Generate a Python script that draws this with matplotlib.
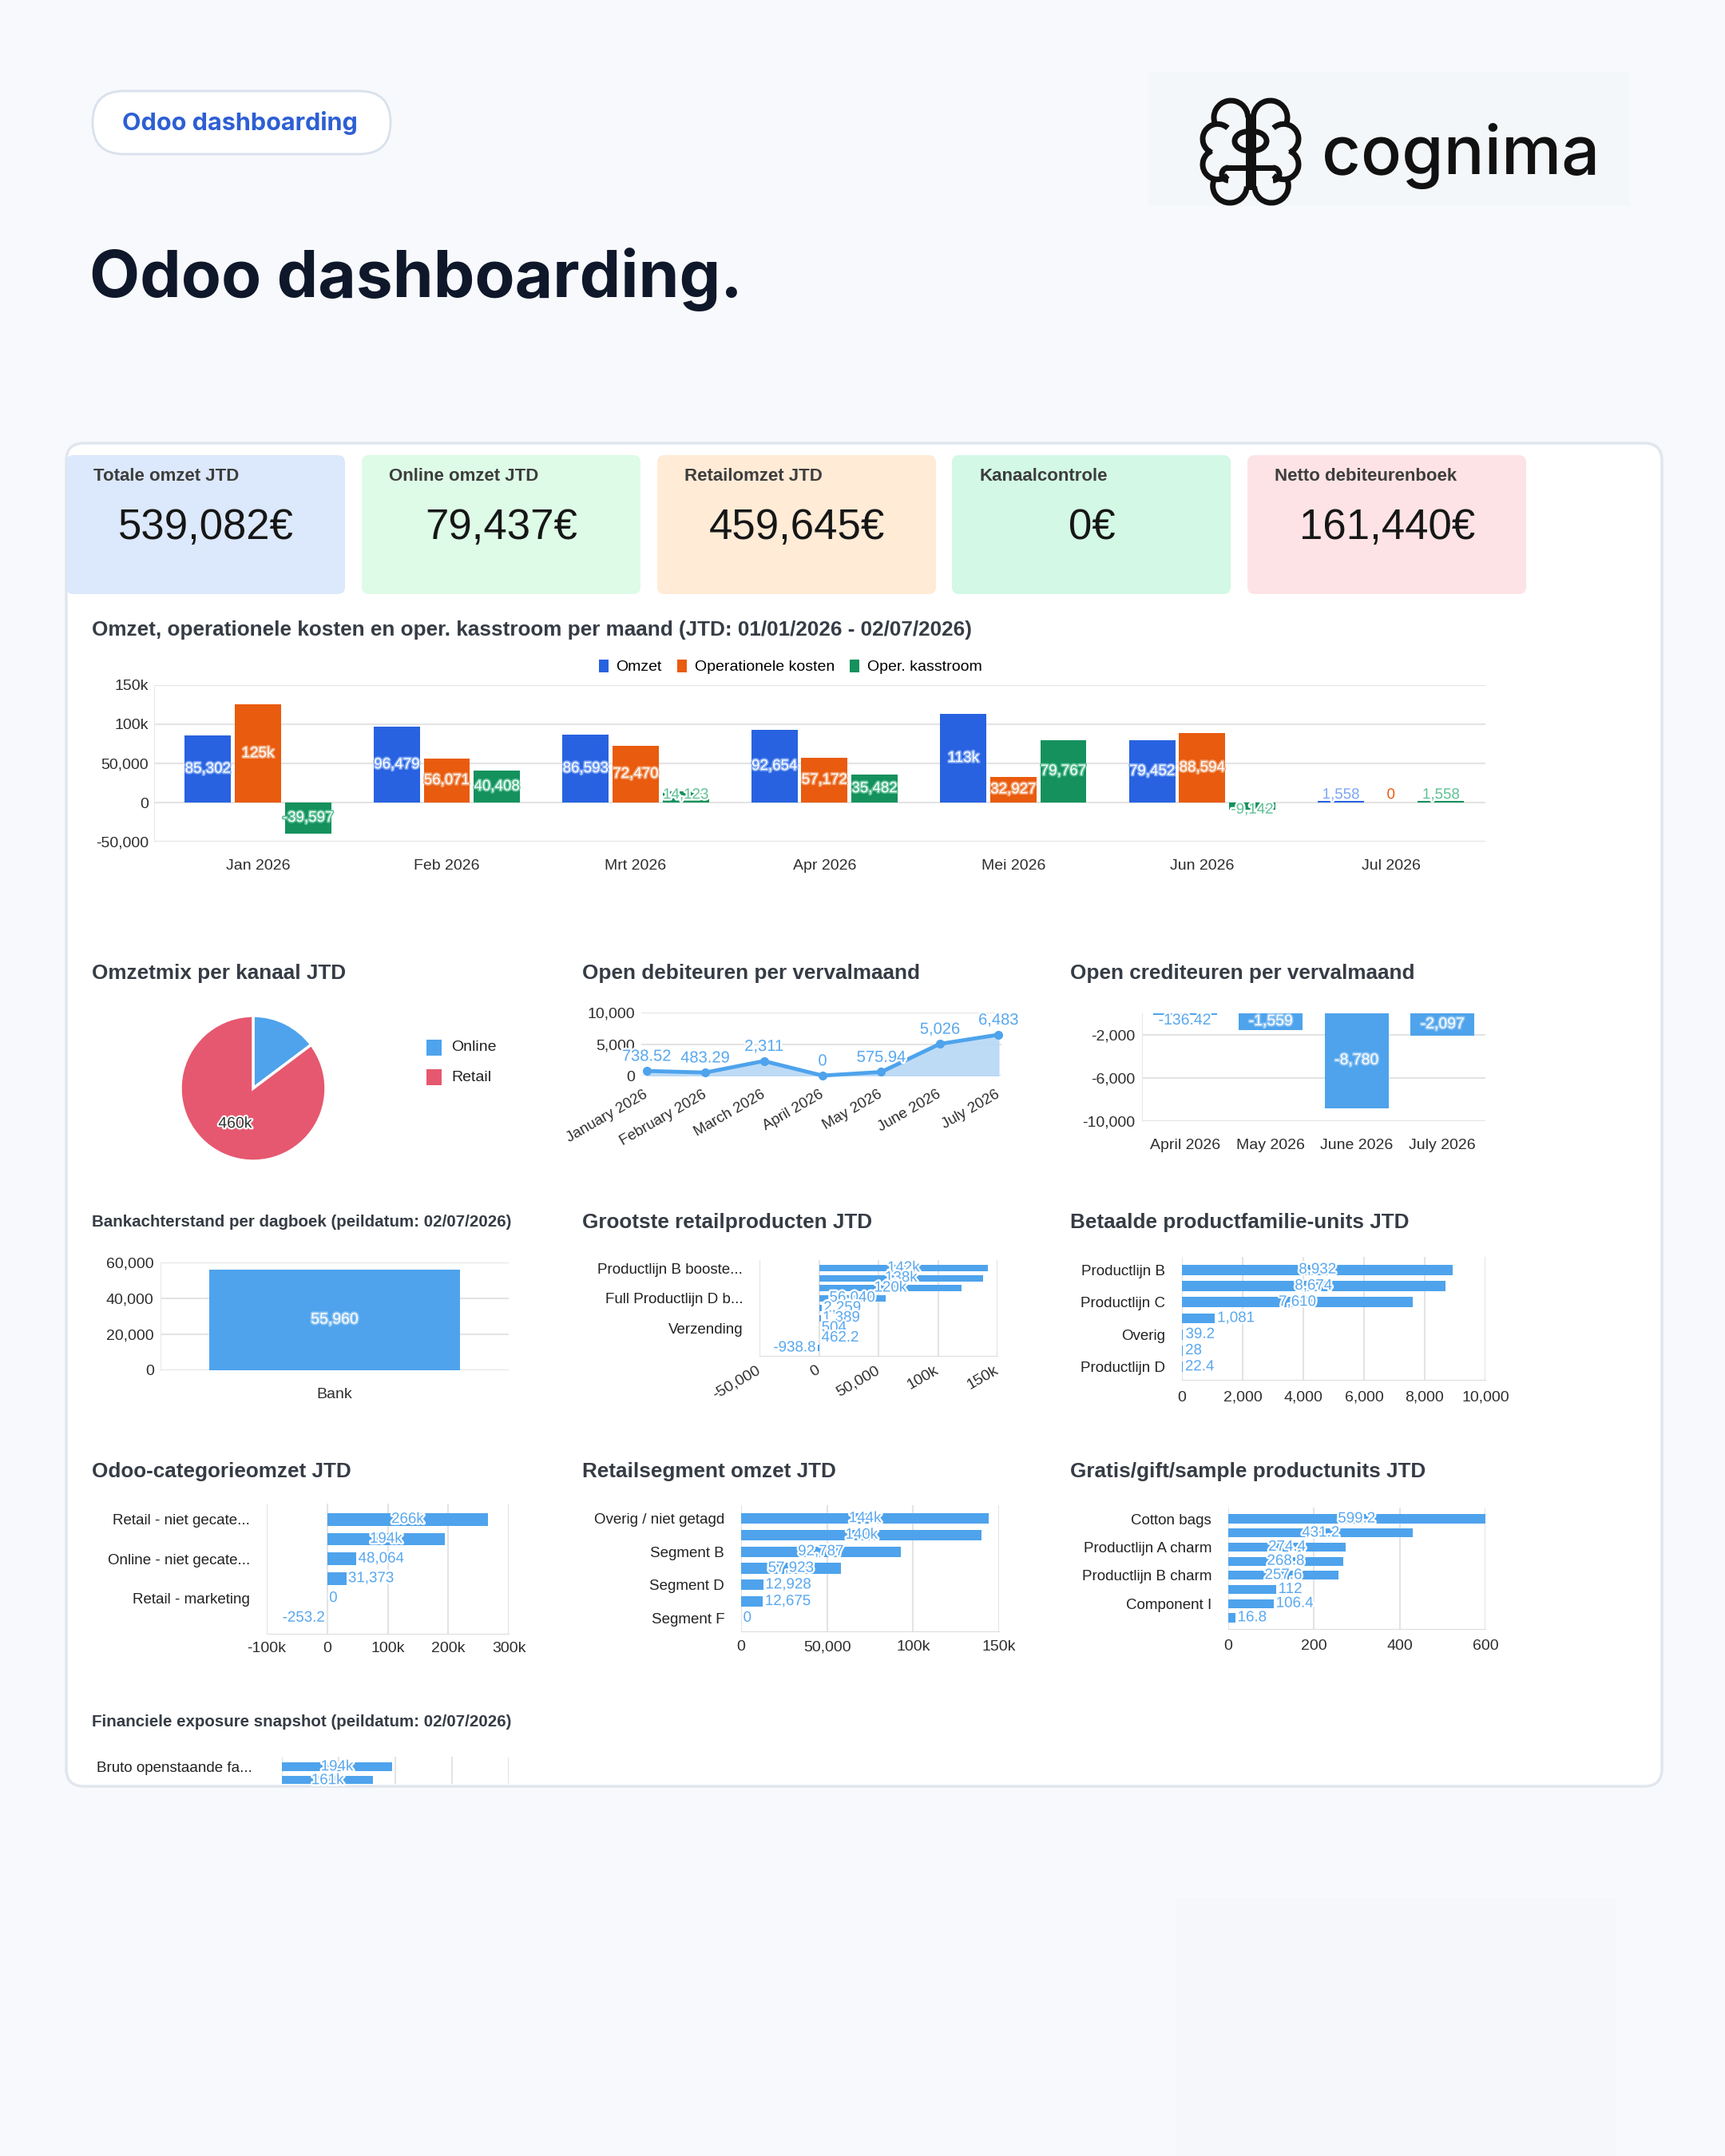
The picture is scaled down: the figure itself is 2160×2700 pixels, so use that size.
import numpy as np
import matplotlib
matplotlib.use("Agg")
import matplotlib.pyplot as plt
import matplotlib.patheffects as pe
from matplotlib.patches import FancyBboxPatch, Rectangle, Arc
from matplotlib.ticker import FuncFormatter
from matplotlib import font_manager

W, H = 2160, 2700
plt.rcParams['font.family'] = ['Liberation Sans', 'DejaVu Sans']

# ---- data ----
kpi_titles = ["Totale omzet JTD", "Online omzet JTD", "Retailomzet JTD", "Kanaalcontrole", "Netto debiteurenboek"]
kpi_values = ["539,082€", "79,437€", "459,645€", "0€", "161,440€"]

months = ["Jan 2026", "Feb 2026", "Mrt 2026", "Apr 2026", "Mei 2026", "Jun 2026", "Jul 2026"]
omzet = [85302, 96479, 86593, 92654, 113000, 79452, 1558]
oper_kosten = [125000, 56071, 72470, 57172, 32927, 88594, 0]
kasstroom = [-39597, 40408, 14123, 35482, 79767, -9142, 1558]

kanalen = ["Online", "Retail"]
kanaal_omzet = [79437, 459645]

deb_maanden = ["January 2026", "February 2026", "March 2026", "April 2026", "May 2026", "June 2026", "July 2026"]
deb_open = [738.52, 483.29, 2311, 0, 575.94, 5026, 6483]

cred_maanden = ["April 2026", "May 2026", "June 2026", "July 2026"]
cred_open = [-136.42, -1559, -8780, -2097]

bank_dagboek = ["Bank"]
bank_achterstand = [55960]

retail_labels = ["Productlijn B booste...", "", "", "Full Productlijn D b...", "", "", "Verzending", "", ""]
retail_omzet = [142000, 138000, 120000, 56040, 2259, 1389, 504, 462.2, -938.8]

fam_labels = ["Productlijn B", "", "Productlijn C", "", "Overig", "", "Productlijn D"]
fam_units = [8932, 8674, 7610, 1081, 39.2, 28, 22.4]

cat_labels = ["Retail - niet gecate...", "", "Online - niet gecate...", "", "Retail - marketing", ""]
cat_omzet = [266000, 194000, 48064, 31373, 0, -253.2]

seg_labels = ["Overig / niet getagd", "", "Segment B", "", "Segment D", "", "Segment F"]
seg_omzet = [144000, 140000, 92787, 57923, 12928, 12675, 0]

gift_labels = ["Cotton bags", "", "Productlijn A charm", "", "Productlijn B charm", "", "Component I", ""]
gift_units = [599.2, 431.2, 274.4, 268.8, 257.6, 112, 106.4, 16.8]

exp_labels = ["Bruto openstaande fa...", ""]
exp_values = [194000, 161000]

# ---- colours ----
BG = "#f7f9fc"
BLUE = "#2862e0"
ORANGE = "#e95b0e"
GREEN = "#14915d"
LIGHT = "#4ea3ec"
LBL = "#5aa8ee"
PIE_COLS = ["#4ea3ec", "#e6586f"]
KPI_COLS = ["#dce8fb", "#ddfbe6", "#ffebd6", "#d3f8e6", "#fde3e5"]
TITLE_C = "#363c45"
TICK_C = "#2e2e2e"
GRID = "#e4e4e4"
TS = 14  # tick label size

names = {f.name for f in font_manager.fontManager.ttflist}
NARROW = "Liberation Sans Narrow" if "Liberation Sans Narrow" in names else None


def fmt(v):
    if abs(v) >= 100000:
        return "%dk" % round(v / 1000)
    if float(v).is_integer():
        return "{:,}".format(int(v))
    return "{:,.2f}".format(v).rstrip("0")


kfmt = FuncFormatter(lambda v, p: fmt(v))

fig = plt.figure(figsize=(W / 100, H / 100), dpi=100, facecolor=BG)


def px_axes(x0, y0, x1, y1):
    return fig.add_axes([x0 / W, 1 - y1 / H, (x1 - x0) / W, (y1 - y0) / H])


bg = px_axes(0, 0, W, H)
bg.set_xlim(0, W)
bg.set_ylim(H, 0)
bg.axis("off")
bg.set_zorder(-5)

# header
bg.add_patch(FancyBboxPatch((116, 114), 373, 79, boxstyle="round,pad=0,rounding_size=39",
                            fc="white", ec="#d9e1ec", lw=2))
bg.text(300, 154, "Odoo dashboarding", color="#2d5fd3", fontsize=22, fontweight="bold",
        family=["Inter", "DejaVu Sans"], ha="center", va="center")
bg.text(112, 372, "Odoo dashboarding.", color="#0f172a", fontsize=59, fontweight="bold",
        family=["Inter", "DejaVu Sans"], ha="left", va="baseline")
bg.add_patch(Rectangle((1438, 90), 603, 168, fc="#f4f7fa", ec="none"))
bg.text(1655, 218, "cognima", color="#111111", fontsize=61, fontweight="medium",
        family=["Inter", "DejaVu Sans"], ha="left", va="baseline")
bg.add_patch(Rectangle((1473, 2377), 551, 323, fc="#f5f7fa", ec="none"))

# brain logo
lg = px_axes(1493, 120, 1639, 260)
lg.set_xlim(-1.05, 1.05)
lg.set_ylim(-1.05, 1.05)
lg.set_aspect("equal")
lg.axis("off")
bumps = [(0.37, 0.64, 0.32), (0.62, 0.24, 0.28), (0.62, -0.24, 0.28), (0.39, -0.64, 0.32)]
for s in (-1, 1):
    for bx, by, r in bumps:
        cx = s * bx
        ang = np.degrees(np.arctan2(by, cx - s * 0.25))
        lg.add_patch(Arc((cx, by), 2 * r, 2 * r, theta1=ang - 100, theta2=ang + 100, lw=5, color="#111"))
    lg.plot([s * 0.05, s * 0.05], [-0.66, 0.66], color="#111", lw=5)
    lg.add_patch(Arc((s * 0.05, 0.2), 0.5, 0.36, theta1=-90 if s > 0 else 90,
                     theta2=90 if s > 0 else 270, lw=5, color="#111"))
    lg.plot([s * 0.05, s * 0.42], [-0.3, -0.3], color="#111", lw=5)
    lg.add_patch(Arc((s * 0.42, -0.42), 0.24, 0.24, theta1=-90 if s > 0 else 90,
                     theta2=90 if s > 0 else 270, lw=5, color="#111"))

# card
bg.add_patch(FancyBboxPatch((83, 555), 1998, 1682, boxstyle="round,pad=0,rounding_size=22",
                            fc="white", ec="#e1e6ee", lw=2.5))

# KPI cards
kx = [83, 453, 823, 1192, 1562]
for x0, t, v, c in zip(kx, kpi_titles, kpi_values, KPI_COLS):
    bg.add_patch(FancyBboxPatch((x0, 570), 349, 174, boxstyle="round,pad=0,rounding_size=9",
                                fc=c, ec="none"))
    bg.text(x0 + 34, 597, t, fontsize=16, fontweight="bold", color="#3d3d3d", va="center")
    bg.text(x0 + 175, 661, v, fontsize=38, color="#161616", ha="center", va="center")


def title(x, y, s, narrow=False):
    if narrow:
        if NARROW:
            bg.text(x, y, s, fontsize=18.5, fontweight="bold", color=TITLE_C, va="center", family=NARROW)
        else:
            bg.text(x, y, s, fontsize=14.8, fontweight="bold", color=TITLE_C, va="center")
    else:
        bg.text(x, y, s, fontsize=18.8, fontweight="bold", color=TITLE_C, va="center")


def style(ax, size=TS):
    for sp in ax.spines.values():
        sp.set_visible(False)
    ax.set_facecolor("none")
    ax.tick_params(length=0, labelsize=size, colors=TICK_C)


def label(ax, x, y, s, inside, col, size=13.5, ha="center"):
    if inside:
        ax.text(x, y, s, color="white", fontsize=size, ha=ha, va="center", zorder=5,
                path_effects=[pe.withStroke(linewidth=2.5, foreground=col)])
    else:
        ax.text(x, y, s, color=col, fontsize=size, ha=ha, va="center", zorder=5,
                path_effects=[pe.withStroke(linewidth=3.5, foreground="white")])


# ---- main bar chart ----
title(115, 789, "Omzet, operationele kosten en oper. kasstroom per maand (JTD: 01/01/2026 - 02/07/2026)")
ax = px_axes(193, 858, 1860, 1054)
style(ax)
x = np.arange(len(months))
series = [(omzet, BLUE, "Omzet", "#7ea6f5"), (oper_kosten, ORANGE, "Operationele kosten", "#f2a070"),
          (kasstroom, GREEN, "Oper. kasstroom", "#5fc196")]
for i, (vals, col, name, lc) in enumerate(series):
    xs = x + (i - 1) * 0.265
    ax.bar(xs, vals, width=0.245, color=col, label=name, zorder=3)
    for xi, v in zip(xs, vals):
        if abs(v) >= 20000:
            label(ax, xi, v / 2, fmt(v), True, lc)
        else:
            label(ax, xi, 9500 if v >= 0 else -9500, fmt(v), False, lc if v != 0 else col)
ax.set_xlim(-0.55, 6.5)
ax.set_ylim(-50000, 150000)
ax.set_yticks(np.arange(-50000, 150001, 50000))
ax.yaxis.set_major_formatter(kfmt)
ax.set_xticks(x)
ax.set_xticklabels(months)
ax.tick_params(axis="x", pad=16)
ax.tick_params(axis="y", pad=5)
ax.grid(axis="y", color=GRID, lw=1.5, zorder=0)
ax.spines["left"].set_visible(True)
ax.spines["left"].set_color("#e8e8e8")
ax.legend(loc="lower center", bbox_to_anchor=(0.478, 1.03), ncol=3, frameon=False, fontsize=14,
          handlelength=0.6, handleheight=0.9, handletextpad=0.5, columnspacing=1.0, borderaxespad=0)

# ---- pie ----
title(115, 1219, "Omzetmix per kanaal JTD")
ax = px_axes(226, 1272, 408, 1454)
total = sum(kanaal_omzet)
ax.pie(kanaal_omzet, colors=PIE_COLS, startangle=90, counterclock=False,
       wedgeprops=dict(edgecolor="white", linewidth=2.5),
       autopct=lambda p: fmt(p * total / 100) if p > 50 else "", pctdistance=0.55,
       textprops=dict(fontsize=14, color="#333",
                      path_effects=[pe.withStroke(linewidth=3, foreground="white")]))
ax.set_xlim(-1.0, 1.0)
ax.set_ylim(-1.0, 1.0)
ax.set_aspect("equal")
for i, (k, c) in enumerate(zip(kanalen, PIE_COLS)):
    y = 1312 + i * 37
    bg.add_patch(Rectangle((534, y - 10), 19, 20, fc=c, ec="none"))
    bg.text(565, y, k, fontsize=14, color="#222", va="center")

# ---- open debiteuren ----
title(729, 1219, "Open debiteuren per vervalmaand")
ax = px_axes(803, 1268, 1254, 1347)
style(ax)
xd = np.arange(len(deb_open))
ax.fill_between(xd, deb_open, 0, color="#b7d8f6", alpha=0.9, zorder=2)
ax.plot(xd, deb_open, color=LIGHT, lw=3.5, marker="o", ms=7, zorder=4, clip_on=False)
for xi, v in zip(xd, deb_open):
    label(ax, xi, v + 2300, fmt(v), False, LBL, size=14.5)
ax.set_xlim(-0.09, 6.05)
ax.set_ylim(0, 10000)
ax.set_yticks([0, 5000, 10000])
ax.yaxis.set_major_formatter(kfmt)
ax.set_xticks(xd)
ax.set_xticklabels(deb_maanden, rotation=30, ha="right", va="center", rotation_mode="anchor")
ax.tick_params(axis="x", pad=16, labelsize=13.5)
ax.tick_params(axis="y", pad=6)
ax.grid(axis="y", color=GRID, lw=1.5, zorder=0)

# ---- open crediteuren ----
title(1340, 1219, "Open crediteuren per vervalmaand")
ax = px_axes(1430, 1269, 1860, 1404)
style(ax)
xc = np.arange(len(cred_open))
ax.bar(xc, cred_open, width=0.74, color=LIGHT, zorder=3)
for xi, v in zip(xc, cred_open):
    if abs(v) > 1000:
        label(ax, xi, v / 2, fmt(v), True, "#8cc3f3", size=14)
    else:
        label(ax, xi, -700, fmt(v), False, LBL, size=14)
ax.set_xlim(-0.5, 3.5)
ax.set_ylim(-10000, 0)
ax.set_yticks([-10000, -6000, -2000])
ax.yaxis.set_major_formatter(kfmt)
ax.set_xticks(xc)
ax.set_xticklabels(cred_maanden)
ax.tick_params(axis="x", pad=16)
ax.tick_params(axis="y", pad=6)
ax.grid(axis="y", color=GRID, lw=1.5, zorder=0)
ax.spines["left"].set_visible(True)
ax.spines["left"].set_color("#e8e8e8")

# ---- bank ----
title(115, 1531, "Bankachterstand per dagboek (peildatum: 02/07/2026)", narrow=True)
ax = px_axes(201, 1581, 637, 1716)
style(ax)
ax.bar(range(len(bank_achterstand)), bank_achterstand, width=0.72, color=LIGHT, zorder=3)
for xi, v in enumerate(bank_achterstand):
    label(ax, xi, v / 2, fmt(v), True, "#8cc3f3", size=14)
ax.set_xlim(-0.5, 0.5)
ax.set_ylim(0, 60000)
ax.set_yticks(np.arange(0, 60001, 20000))
ax.yaxis.set_major_formatter(kfmt)
ax.set_xticks(range(len(bank_dagboek)))
ax.set_xticklabels(bank_dagboek)
ax.tick_params(axis="x", pad=16)
ax.tick_params(axis="y", pad=6)
ax.grid(axis="y", color=GRID, lw=1.5, zorder=0)
ax.spines["left"].set_visible(True)
ax.spines["left"].set_color("#e8e8e8")


# ---- horizontal bar charts ----
def hbar(box, labels, values, xlim, xticks, pad_rows=0.8, xpad=8, rot=0, ylpad=15, ticklabels=True):
    ax = px_axes(*box)
    style(ax, 13.5)
    n = len(values)
    y = np.arange(n)
    ax.barh(y, values, height=0.64, color=LIGHT, zorder=3)
    span = xlim[1] - xlim[0]
    for yi, v in zip(y, values):
        s = fmt(v)
        if abs(v) > 0.25 * span:
            label(ax, v / 2, yi, s, False, LBL, size=13.5)
        elif v < 0:
            label(ax, v - 0.008 * span, yi, s, False, LBL, size=13.5, ha="right")
        else:
            label(ax, v + 0.008 * span, yi, s, False, LBL, size=13.5, ha="left")
    ax.set_ylim(n - 1 + pad_rows, -pad_rows)
    ax.set_yticks(y)
    ax.set_yticklabels(labels)
    ax.set_xlim(*xlim)
    ax.set_xticks(xticks)
    ax.xaxis.set_major_formatter(kfmt)
    if rot:
        ax.set_xticklabels([fmt(t) for t in xticks], rotation=rot, ha="right", va="center",
                           rotation_mode="anchor")
    if not ticklabels:
        ax.set_xticklabels([])
    ax.tick_params(axis="x", pad=xpad, labelsize=TS)
    ax.tick_params(axis="y", pad=ylpad, labelcolor="#222")
    ax.grid(axis="x", color=GRID, lw=1.5, zorder=0)
    ax.spines["bottom"].set_visible(True)
    ax.spines["bottom"].set_color("#dddddd")
    return ax


title(729, 1531, "Grootste retailproducten JTD")
hbar((951, 1578, 1249, 1698), retail_labels, retail_omzet, (-50000, 150000),
     [-50000, 0, 50000, 100000, 150000], xpad=12, rot=30)

title(1340, 1531, "Betaalde productfamilie-units JTD")
hbar((1480, 1574, 1860, 1728), fam_labels, fam_units, (0, 10000),
     np.arange(0, 10001, 2000), xpad=10)

title(115, 1843, "Odoo-categorieomzet JTD")
hbar((334, 1883, 637, 2046), cat_labels, cat_omzet, (-100000, 300000),
     np.arange(-100000, 300001, 100000), xpad=7)

title(729, 1843, "Retailsegment omzet JTD")
hbar((928, 1885, 1251, 2043), seg_labels, seg_omzet, (0, 150000),
     np.arange(0, 150001, 50000), xpad=8)

title(1340, 1843, "Gratis/gift/sample productunits JTD")
hbar((1538, 1888, 1860, 2040), gift_labels, gift_units, (0, 600),
     np.arange(0, 601, 200), xpad=9)

title(115, 2157, "Financiele exposure snapshot (peildatum: 02/07/2026)", narrow=True)
ax = hbar((353, 2200, 637, 2234), exp_labels, exp_values, (0, 400000),
          np.arange(0, 400001, 100000), pad_rows=0.75, ylpad=27, ticklabels=False)
ax.set_ylim(1.25, -0.75)
ax.spines["bottom"].set_visible(False)
ax.axvline(0, color="#dddddd", lw=1.5, zorder=1)

fig.savefig("out.png", dpi=100, facecolor=BG)
